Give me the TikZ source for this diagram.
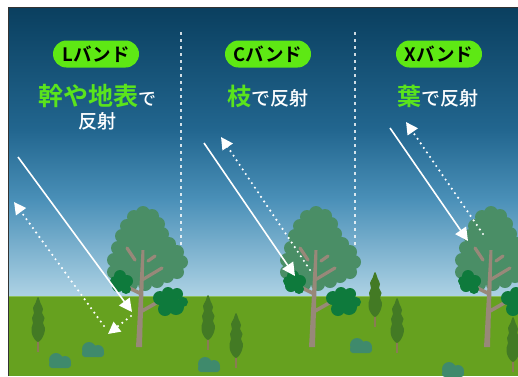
\documentclass[tikz,border=0pt]{standalone}
\usepackage{fontspec}
\setmainfont{Noto Sans CJK JP}[UprightFont={* Medium}, BoldFont={* Bold}]
\usetikzlibrary{arrows.meta}

\definecolor{skyA}{HTML}{0A3F5F}
\definecolor{skyB}{HTML}{22668F}
\definecolor{skyC}{HTML}{4A90B8}
\definecolor{skyD}{HTML}{ADD2E4}
\definecolor{groundc}{HTML}{66A11F}
\definecolor{horizonc}{HTML}{8CBF5A}
\definecolor{canopyc}{HTML}{4A8E66}
\definecolor{darkleaf}{HTML}{0E7A3C}
\definecolor{trunkc}{HTML}{988879}
\definecolor{cypressc}{HTML}{437A24}
\definecolor{stemc}{HTML}{8A7B55}
\definecolor{shrubc}{HTML}{3F8A6C}
\definecolor{pillc}{HTML}{5EE814}
\definecolor{hlgreen}{HTML}{5AE41C}

\tikzset{
  canopy/.style={fill=canopyc},
  darkblob/.style={fill=darkleaf},
  branch/.style={draw=trunkc, line width=3.6pt, line cap=round},
  incident/.style={draw=white, line width=1.6pt, -{Triangle[length=13pt,width=13pt]}},
  echo/.style={draw=white, line width=2.4pt, dash pattern=on 0pt off 5.5pt, line cap=round,
               -{Triangle[length=12pt,width=12pt]}},
  divider/.style={draw=white, draw opacity=0.8, line width=1.3pt, dash pattern=on 2.5pt off 4.5pt},
  bandpill/.style={fill=pillc, rounded corners=13.5pt, minimum width=86pt, minimum height=27pt,
                   inner sep=0pt, font=\fontsize{18.5}{20}\selectfont\bfseries, text=black},
  caption/.style={inner sep=0pt, text=white, font=\fontsize{19}{22}\selectfont},
  bigtree/.pic={
    % crown: scalloped outline around a filled core
    \fill[canopy] plot[smooth cycle] coordinates {(4,213) (13,216) (19,224) (23,234) (30,244)
        (38,252) (42,262) (38,272) (28,276) (18,281) (6,284) (-8,284) (-20,282) (-25,272)
        (-25,260) (-21,248) (-17,236) (-12,226) (-5,217)};
    \foreach \cx/\cy in {4/213, 13/216, 19/224, 23/234, 30/244, 38/252, 42/262, 38/272,
        28/276, 18/281, 6/284, -8/284, -20/282, -25/272, -25/260, -21/248, -17/236,
        -12/226, -5/217}
      {\fill[canopy] (\cx,\cy) circle[radius=7pt];}
    % trunk and branches
    \fill[trunkc] (-3,347) -- (3,347) -- (5.5,250) -- (2.5,250) -- cycle;
    \draw[branch] (0.5,293) -- (-16,285);
    \draw[branch] (3,311) -- (26,298);
    \draw[branch, line width=3.2pt] (3,280) -- (23,268);
    \draw[branch, line width=3.2pt] (9,261) -- (16,256);
    \draw[branch, line width=3.2pt] (-12,248) -- (-4,260);
    % dark foliage clumps
    \foreach \cx/\cy/\r in {-19/276/6, -12/281/6, -21/286/6, -13/289/5, -24/281/5}
      {\fill[darkblob] (\cx,\cy) circle[radius=\r pt];}
    \foreach \cx/\cy/\r in {21/298/7, 29/293/6, 38/294/6, 44/302/5, 37/307/8, 26/309/7, 31/300/7}
      {\fill[darkblob] (\cx,\cy) circle[radius=\r pt];}
  },
  cypress/.pic={
    \draw[stemc, line width=1.6pt] (0,38) -- (0,55);
    \fill[cypressc] plot[smooth cycle, tension=0.6] coordinates {
      (0,0) (2.5,6) (5,12) (4,16) (6.5,21) (5,26) (7,31) (6,37) (3.5,42) (0,45)
      (-3.5,42) (-6,37) (-6.5,31) (-5,26) (-6,21) (-4,16) (-5,11) (-2.5,6)};
  },
  shrub/.pic={
    \fill[shrubc] (-4,-8) circle[radius=7pt] (5,-6) circle[radius=6pt];
    \fill[shrubc, rounded corners=3pt] (-11,-7) rectangle (11,0);
  }
}

\begin{document}
\begin{tikzpicture}[x=1pt, y=-1pt]
  \useasboundingbox (0,0) rectangle (518,376);
  \fill[white] (0,0) rectangle (518,376);

  \begin{scope}
    \clip (8,7) rectangle (518,376);
    % sky
    \shade[top color=skyA, bottom color=skyB] (8,7) rectangle (518,130);
    \shade[top color=skyB, bottom color=skyC] (8,129.5) rectangle (518,200);
    \shade[top color=skyC, bottom color=skyD] (8,199.5) rectangle (518,296);

    % panel dividers
    \coordinate (divAtop) at (181,32);
    \coordinate (divAbot) at (181,245);
    \coordinate (divBtop) at (355,32);
    \coordinate (divBbot) at (355,245);
    \draw[divider] (divAtop) -- (divAbot);
    \draw[divider] (divBtop) -- (divBbot);

    % ground
    \fill[groundc] (8,296) rectangle (518,376);
    \draw[horizonc, line width=1pt] (8,296.5) -- (518,296.5);

    % shrubs
    \pic at (60,368) {shrub};
    \pic at (93,357) {shrub};
    \pic at (209,372) {shrub};
    \pic at (361,353) {shrub};
    \pic at (453,377) {shrub};

    % cypresses
    \pic at (38,297) {cypress};
    \pic at (208,295) {cypress};
    \pic at (236,313) {cypress};
    \pic at (375,272) {cypress};
    \pic at (397,298) {cypress};
    \pic at (513,317) {cypress};

    % trees
    \pic at (139,0) {bigtree};
    \pic at (312,0) {bigtree};
    \pic at (487,0) {bigtree};

    % L band: trunk and ground bounce
    \coordinate (lSrc) at (18,157);
    \coordinate (lHit) at (132,312);
    \coordinate (lTrunk) at (131,316);
    \coordinate (lGround) at (108,334);
    \coordinate (lBounce) at (104,326);
    \coordinate (lBack) at (14,202);
    \draw[incident] (lSrc) -- (lHit);
    \draw[echo] (lTrunk) -- (lGround);
    \draw[echo] (lBounce) -- (lBack);

    % C band: branch return
    \coordinate (cSrc) at (204,143);
    \coordinate (cHit) at (295,276);
    \coordinate (cBranch) at (310,270);
    \coordinate (cBack) at (221,137);
    \draw[incident] (cSrc) -- (cHit);
    \draw[echo] (cBranch) -- (cBack);

    % X band: leaf return
    \coordinate (xSrc) at (390,128);
    \coordinate (xHit) at (468,241);
    \coordinate (xLeaf) at (483,234);
    \coordinate (xBack) at (406,122);
    \draw[incident] (xSrc) -- (xHit);
    \draw[echo] (xLeaf) -- (xBack);
  \end{scope}

  % frame edges
  \draw[black!80, line width=0.8pt] (8.4,376) -- (8.4,7.4) -- (518,7.4);

  % band labels
  \node[bandpill] (pillL) at (96,54) {Lバンド};
  \node[bandpill] (pillC) at (268,54) {Cバンド};
  \node[bandpill] (pillX) at (439,54) {Xバンド};

  \node[caption] (capL1) at (97,96)
    {{\fontsize{25}{28}\selectfont\bfseries\color{hlgreen}幹や地表}{\fontsize{18}{20}\selectfont で}};
  \node[caption] (capL2) at (97,121) {反射};
  \node[caption] (capC) at (268,96)
    {{\fontsize{24}{28}\selectfont\bfseries\color{hlgreen}枝}で反射};
  \node[caption] (capX) at (438,96)
    {{\fontsize{24}{28}\selectfont\bfseries\color{hlgreen}葉}で反射};
\end{tikzpicture}
\end{document}
